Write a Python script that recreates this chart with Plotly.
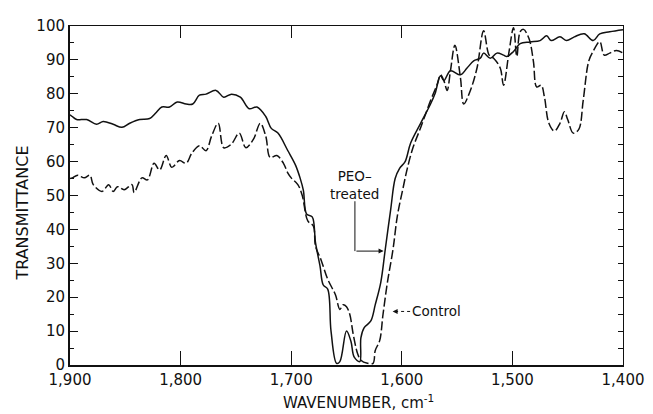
import plotly.graph_objects as go

# ---------------- data ----------------
wn_peo = [1900, 1898, 1894, 1885, 1876, 1870, 1861, 1853, 1846, 1837, 1828, 1822, 1817, 1810,
          1803, 1795, 1789, 1783, 1777, 1768, 1761, 1754, 1746, 1738, 1731, 1723, 1718, 1712,
          1703, 1696, 1692, 1689, 1686, 1681, 1678, 1674, 1671, 1667, 1664, 1659, 1656, 1650,
          1646, 1643, 1638, 1637, 1634, 1628, 1624, 1619, 1615, 1610, 1606, 1602, 1597, 1592,
          1583, 1574, 1570, 1565, 1562, 1556, 1547, 1541, 1535, 1529, 1526, 1520, 1514, 1508,
          1505, 1499, 1493, 1484, 1475, 1469, 1465, 1457, 1451, 1444, 1435, 1427, 1421, 1412, 1400]
t_peo = [73.8, 73.3, 72.4, 72.4, 71.0, 71.8, 71.0, 70.1, 71.3, 72.4, 72.7, 74.5, 76.1, 76.1,
         77.6, 77.0, 77.0, 79.6, 79.9, 81.0, 79.0, 79.9, 79.0, 75.6, 76.1, 73.3, 69.8, 68.4,
         63.2, 58.9, 55.2, 51.5, 44.5, 43.7, 36.0, 29.3, 23.6, 22.4, 10.0, 0.5, 1.0, 10.0,
         7.0, 2.3, 1.0, 8.0, 11.0, 13.0, 17.8, 24.4, 34.0, 46.0, 55.0, 58.0, 60.0, 65.5,
         71.3, 77.0, 80.0, 85.3, 83.9, 86.8, 85.6, 87.6, 89.7, 90.5, 92.0, 90.5, 92.0, 91.4,
         91.0, 92.5, 94.8, 95.3, 95.7, 97.1, 95.7, 96.8, 95.7, 96.8, 97.7, 95.7, 97.7, 98.3, 98.9]

wn_control = [1900, 1898, 1893, 1887, 1882, 1879, 1871, 1865, 1861, 1857, 1851, 1844, 1842, 1835,
              1830, 1824, 1819, 1813, 1808, 1801, 1795, 1790, 1783, 1777, 1772, 1766, 1761, 1754,
              1747, 1741, 1734, 1728, 1723, 1719, 1713, 1707, 1703, 1700, 1694, 1690, 1685, 1680,
              1678, 1673, 1667, 1660, 1656, 1653, 1650, 1647, 1644, 1640, 1637, 1631, 1626, 1624,
              1620, 1617, 1613, 1608, 1604, 1599, 1595, 1590, 1583, 1574, 1568, 1565, 1562, 1559,
              1556, 1552, 1547, 1544, 1538, 1532, 1526, 1521, 1517, 1511, 1508, 1503, 1499, 1496,
              1493, 1490, 1485, 1481, 1478, 1474, 1471, 1467, 1462, 1457, 1453, 1450, 1445, 1440,
              1436, 1431, 1427, 1421, 1417, 1412, 1406, 1400]
t_control = [55.0, 55.2, 56.0, 55.2, 56.0, 53.2, 51.2, 53.2, 51.2, 52.6, 51.7, 53.2, 50.9, 55.2,
             54.6, 59.5, 57.5, 61.8, 58.3, 60.3, 59.5, 62.4, 64.7, 63.2, 67.5, 71.3, 64.1, 65.2,
             68.4, 64.1, 66.7, 71.3, 67.5, 61.2, 61.8, 59.5, 56.6, 55.2, 53.2, 50.0, 42.5, 41.0,
             35.0, 31.0, 25.3, 20.7, 16.4, 17.8, 17.2, 14.9, 9.2, 3.4, 1.4, 0.5, 0.5, 4.3,
             7.2, 14.9, 24.4, 34.0, 44.0, 52.0, 58.0, 64.0, 70.0, 78.0, 82.8, 85.6, 83.9, 81.0,
             86.8, 94.3, 84.8, 77.0, 81.0, 87.6, 98.6, 91.4, 90.5, 87.6, 82.5, 92.5, 99.5, 91.0,
             98.3, 99.0, 96.3, 89.6, 82.0, 82.5, 79.0, 71.3, 69.0, 71.3, 74.7, 72.4, 68.4, 69.5,
             78.0, 89.6, 92.5, 95.4, 91.4, 92.0, 92.8, 92.0]

x_tickvals = [1900, 1800, 1700, 1600, 1500, 1400]
x_ticktext = ["1,900", "1,800", "1,700", "1,600", "1,500", "1,400"]
y_tickvals = [0, 10, 20, 30, 40, 50, 60, 70, 80, 90, 100]

INK = "#111111"
FONT = "DejaVu Sans"

fig = go.Figure()
fig.add_trace(go.Scatter(x=wn_peo, y=t_peo, mode="lines", name="PEO-treated",
                         line=dict(color=INK, width=1.5), line_shape="spline"))
fig.add_trace(go.Scatter(x=wn_control, y=t_control, mode="lines", name="Control",
                         line=dict(color=INK, width=1.5, dash="9px,3px"), line_shape="spline"))
# invisible trace to anchor the mirror axes (top / right)
fig.add_trace(go.Scatter(x=[1900], y=[0], xaxis="x2", yaxis="y2", mode="markers",
                         marker=dict(opacity=0), showlegend=False, hoverinfo="skip"))

# the page body has an 8px margin, so the figure is sized to fit the window
fig.update_layout(
    width=645, height=406,
    margin=dict(l=62, r=26, t=9, b=49),
    paper_bgcolor="white", plot_bgcolor="white",
    showlegend=False,
    font=dict(family=FONT, size=15, color=INK),
    xaxis=dict(range=[1900, 1400], tickvals=x_tickvals, ticktext=x_ticktext,
               ticks="inside", ticklen=14, tickwidth=1, tickcolor=INK,
               showline=True, linewidth=2, linecolor=INK, showgrid=False, zeroline=False,
               tickfont=dict(size=15)),
    yaxis=dict(range=[0, 100], tickvals=y_tickvals, ticks="inside", ticklen=8, tickwidth=1,
               tickcolor=INK, showline=True, linewidth=2, linecolor=INK,
               showgrid=False, zeroline=False, tickfont=dict(size=15),
               minor=dict(dtick=5, ticks="inside", ticklen=4, tickcolor=INK, showgrid=False)),
    xaxis2=dict(overlaying="x", side="top", range=[1900, 1400], tickvals=[1800, 1700, 1600],
                ticks="inside", ticklen=12, tickwidth=1, tickcolor=INK, showticklabels=False,
                showline=True, linewidth=1, linecolor=INK, showgrid=False, zeroline=False),
    yaxis2=dict(overlaying="y", side="right", range=[0, 100], dtick=5,
                ticks="inside", ticklen=5, tickwidth=1, tickcolor=INK, showticklabels=False,
                showline=True, linewidth=1, linecolor=INK, showgrid=False, zeroline=False),
)

# axis titles
fig.add_annotation(xref="paper", yref="paper", x=0.521, y=-0.109, text="WAVENUMBER, cm<sup>-1</sup>",
                   showarrow=False, font=dict(size=15), xanchor="center", yanchor="middle")
fig.add_annotation(xref="paper", yref="paper", x=-0.086, y=0.448, text="TRANSMITTANCE",
                   textangle=-90, showarrow=False, font=dict(size=16),
                   xanchor="center", yanchor="middle")

# PEO-treated label and leader
fig.add_annotation(x=1642.4, y=53.0, text="PEO–<br>treated", showarrow=False,
                   font=dict(size=13.5), xanchor="center", yanchor="middle")
fig.add_shape(type="line", x0=1642.4, x1=1642.4, y0=48.3, y1=33.6,
              line=dict(color=INK, width=1))
fig.add_annotation(x=1616.5, y=33.6, ax=1642.4, ay=33.6, axref="x", ayref="y",
                   text="", showarrow=True, arrowhead=2, arrowsize=1, arrowwidth=1,
                   arrowcolor=INK)

# Control label and leader
fig.add_annotation(x=1592.5, y=15.8, text="Control", showarrow=False,
                   font=dict(size=13.5), xanchor="left", yanchor="middle")
fig.add_shape(type="line", x0=1592.5, x1=1604.5, y0=15.8, y1=15.8,
              line=dict(color=INK, width=1, dash="dot"))
fig.add_annotation(x=1608.3, y=15.8, ax=1603.5, ay=15.8, axref="x", ayref="y",
                   text="", showarrow=True, arrowhead=2, arrowsize=1, arrowwidth=1,
                   arrowcolor=INK)

fig.write_html("out.html")
